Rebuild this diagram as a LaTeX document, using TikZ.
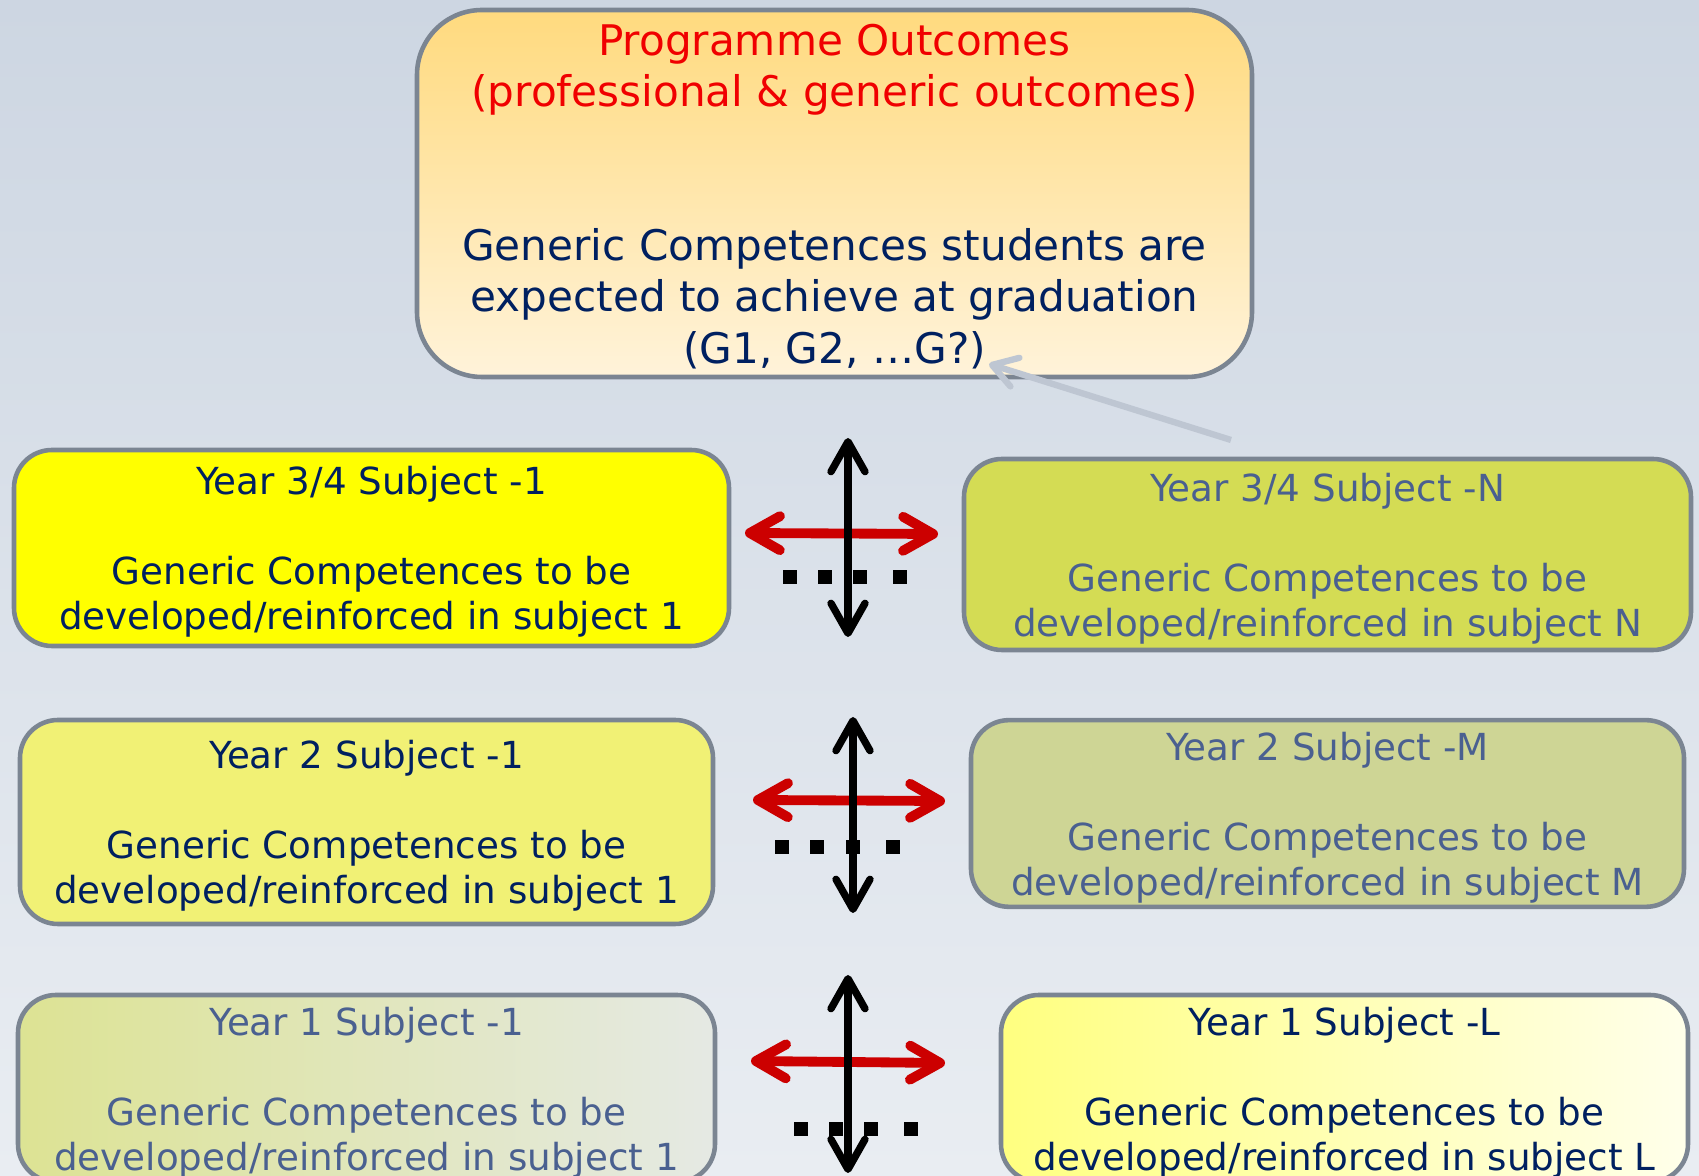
\documentclass[tikz,border=0pt]{standalone}
\usepackage{fontspec}
\setmainfont{DejaVu Sans}
\usetikzlibrary{arrows.meta, positioning}
\definecolor{Navy}{HTML}{002060}
\definecolor{Muted}{HTML}{4A6090}
\definecolor{Frame}{HTML}{7B8592}
\definecolor{Alert}{HTML}{F00000}
\definecolor{Cross}{HTML}{CC0000}
\definecolor{Pointer}{HTML}{BEC6D2}
\definecolor{BgTop}{HTML}{CDD6E2}
\definecolor{BgBottom}{HTML}{E9EDF2}
\definecolor{OutTop}{HTML}{FFDA7E}
\definecolor{OutBottom}{HTML}{FFF3DA}
\definecolor{Lemon}{HTML}{FFFF00}
\definecolor{Olive}{HTML}{D4DC54}
\definecolor{Pale}{HTML}{F1F175}
\definecolor{Sage}{HTML}{CED595}
\tikzset{
    outbox/.style={rectangle, rounded corners=6.5mm, draw=Frame, line width=1.3pt, top color=OutTop, bottom color=OutBottom, text=Navy, align=center, text depth=0pt, font=\fontsize{12}{14.6}\selectfont, minimum width=8.35cm, minimum height=3.67cm},
    yearbox/.style={rectangle, rounded corners=3.8mm, draw=Frame, line width=1.3pt, align=center, text depth=0pt, font=\fontsize{10.6}{12.8}\selectfont},
    redarrow/.style={{Straight Barb[length=3mm, width=3.4mm, round]}-{Straight Barb[length=3mm, width=3.4mm, round]}, line width=2.8pt, color=Cross},
    blackarrow/.style={{Straight Barb[length=3mm, width=3.4mm, round]}-{Straight Barb[length=3mm, width=3.4mm, round]}, line width=2.1pt, color=black},
    pointer/.style={-{Straight Barb[length=2.4mm, width=3mm, round]}, line width=1.8pt, color=Pointer},
    gapdot/.style={rectangle, fill=black, minimum size=1.35mm, inner sep=0pt},
}

\begin{document}
\begin{tikzpicture}
    \useasboundingbox (0,0) rectangle (16.99,-11.76);
    \clip (0,0) rectangle (16.99,-11.76);
    \shade[top color=BgTop, bottom color=BgBottom] (0,0) rectangle (16.99,-11.76);

    % Programme level
    \node[outbox] (prog) at (8.345,-1.935) {\textcolor{Alert}{Programme Outcomes}\\\textcolor{Alert}{(professional \& generic outcomes)}\\[29.2pt]Generic Competences students are\\expected to achieve at graduation\\(G1, G2, …G?)};

    % Year 3/4
    \node[yearbox, fill=Lemon, text=Navy, minimum width=7.15cm, minimum height=1.96cm] (y3a) at (3.715,-5.48) {Year 3/4 Subject -1\\[12.8pt]Generic Competences to be\\developed/reinforced in subject 1};
    \node[yearbox, fill=Olive, text=Muted, minimum width=7.27cm, minimum height=1.91cm] (y3b) at (13.275,-5.545) {Year 3/4 Subject -N\\[12.8pt]Generic Competences to be\\developed/reinforced in subject N};

    % Year 2
    \node[yearbox, fill=Pale, text=Navy, minimum width=6.93cm, minimum height=2.04cm] (y2a) at (3.665,-8.22) {Year 2 Subject -1\\[12.8pt]Generic Competences to be\\developed/reinforced in subject 1};
    \node[yearbox, fill=Sage, text=Muted, minimum width=7.13cm, minimum height=1.83cm] (y2b) at (13.275,-8.135) {Year 2 Subject -M\\[12.8pt]Generic Competences to be\\developed/reinforced in subject M};

    % Year 1
    \node[yearbox, left color=Olive!60!BgBottom, right color=BgBottom!85!Sage, text=Muted, minimum width=6.97cm, minimum height=1.87cm] (y1a) at (3.665,-10.885) {Year 1 Subject -1\\[12.8pt]Generic Competences to be\\developed/reinforced in subject 1};
    \node[yearbox, left color=Lemon!50!white, right color=Lemon!8!white, text=Navy, minimum width=6.87cm, minimum height=1.87cm] (y1b) at (13.445,-10.885) {Year 1 Subject -L\\[12.8pt]Generic Competences to be\\developed/reinforced in subject L};

    % pointer up to the G list
    \coordinate (ptail) at (12.31,-4.40);
    \coordinate (phead) at (9.89,-3.64);
    \draw[pointer] (ptail) -- (phead);

    % crosses between the columns
    \coordinate (lt3) at (7.45,-5.33);  \coordinate (rt3) at (9.38,-5.34);
    \coordinate (up3) at (8.48,-4.38);  \coordinate (dn3) at (8.48,-6.37);
    \coordinate (lt2) at (7.53,-8.00);  \coordinate (rt2) at (9.45,-8.01);
    \coordinate (up2) at (8.53,-7.17);  \coordinate (dn2) at (8.53,-9.13);
    \coordinate (lt1) at (7.51,-10.61); \coordinate (rt1) at (9.45,-10.63);
    \coordinate (up1) at (8.48,-9.75);  \coordinate (dn1) at (8.48,-11.73);
    \draw[redarrow] (lt3) -- (rt3);
    \draw[redarrow] (lt2) -- (rt2);
    \draw[redarrow] (lt1) -- (rt1);
    \draw[blackarrow] (dn3) -- (up3);
    \draw[blackarrow] (dn2) -- (up2);
    \draw[blackarrow] (dn1) -- (up1);

    % dotted gaps
    \foreach \x [count=\i] in {7.90,8.25,8.60,9.00} \node[gapdot] (dotc\i) at (\x,-5.77) {};
    \foreach \x [count=\i] in {7.82,8.17,8.53,8.93} \node[gapdot] (dotb\i) at (\x,-8.47) {};
    \foreach \x [count=\i] in {8.01,8.36,8.71,9.11} \node[gapdot] (dota\i) at (\x,-11.29) {};
\end{tikzpicture}
\end{document}
